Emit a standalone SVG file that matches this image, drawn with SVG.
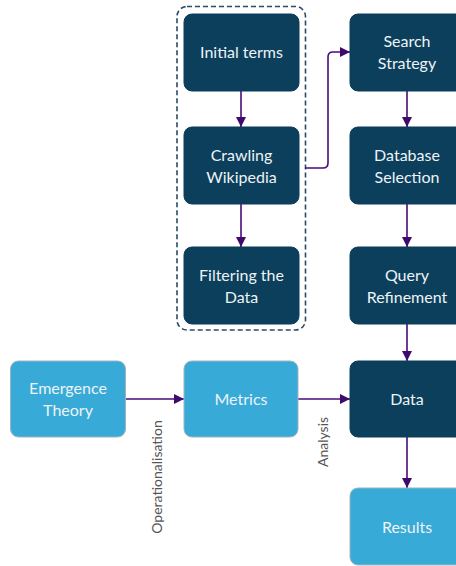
<svg xmlns="http://www.w3.org/2000/svg" width="456" height="566" viewBox="0 0 456 566">
  <style>
    .dark { fill: #0b3f5c; stroke: #0b3f5c; stroke-width: 1; }
    .light { fill: #38aad8; stroke: #9fb4c0; stroke-width: 1; }
    .lbl { font-family: Lato, "Open Sans", "Liberation Sans", sans-serif; font-size: 16px; fill: #eef3f6; text-anchor: middle; }
    .edge { fill: none; stroke: #4a0a7a; stroke-width: 1.6; }
    .elbl { font-family: Lato, "Open Sans", "Liberation Sans", sans-serif; font-size: 14px; fill: #555555; text-anchor: middle; }
  </style>
  <defs>
    <marker id="arrow" viewBox="0 0 10 10" refX="10" refY="5" markerWidth="10" markerHeight="10" markerUnits="userSpaceOnUse" orient="auto">
      <path d="M0,0 L10,5 L0,10 Z" fill="#3f0a6e"/>
    </marker>
  </defs>
  <rect width="456" height="566" fill="#ffffff"/>

  <!-- dashed group around the Wikipedia steps -->
  <rect id="group" x="177" y="6.5" width="128.5" height="323.5" rx="10" fill="none" stroke="#2a4b63" stroke-width="1.6" stroke-dasharray="5,3"/>

  <g id="connectors">
    <line class="edge" x1="241" y1="91" x2="241" y2="127" marker-end="url(#arrow)"/>
    <line class="edge" x1="241" y1="204" x2="241" y2="247" marker-end="url(#arrow)"/>
    <path class="edge" d="M305,168 H323 Q328,168 328,163 V57 Q328,52 333,52 H350" marker-end="url(#arrow)"/>
    <line class="edge" x1="407" y1="91" x2="407" y2="127" marker-end="url(#arrow)"/>
    <line class="edge" x1="407" y1="204" x2="407" y2="247" marker-end="url(#arrow)"/>
    <line class="edge" x1="407" y1="324" x2="407" y2="361" marker-end="url(#arrow)"/>
    <line class="edge" x1="407" y1="437" x2="407" y2="488" marker-end="url(#arrow)"/>
    <line class="edge" x1="125" y1="399" x2="184" y2="399" marker-end="url(#arrow)"/>
    <line class="edge" x1="298" y1="399" x2="350" y2="399" marker-end="url(#arrow)"/>
    <text class="elbl" transform="translate(162,477) rotate(-90)">Operationalisation</text>
    <text class="elbl" transform="translate(328,442) rotate(-90)">Analysis</text>
  </g>

  <g id="initial-terms">
    <rect class="dark" x="184" y="14" width="115" height="77" rx="8"/>
    <text class="lbl" x="241.5" y="58">Initial terms</text>
  </g>
  <g id="crawling-wikipedia">
    <rect class="dark" x="184" y="127" width="115" height="77" rx="8"/>
    <text class="lbl" x="241.5" y="161">Crawling</text>
    <text class="lbl" x="241.5" y="183">Wikipedia</text>
  </g>
  <g id="filtering-data">
    <rect class="dark" x="184" y="247" width="115" height="77" rx="8"/>
    <text class="lbl" x="241.5" y="281">Filtering the</text>
    <text class="lbl" x="241.5" y="303">Data</text>
  </g>

  <g id="search-strategy">
    <rect class="dark" x="350" y="14" width="115" height="77" rx="8"/>
    <text class="lbl" x="407" y="47">Search</text>
    <text class="lbl" x="407" y="69">Strategy</text>
  </g>
  <g id="database-selection">
    <rect class="dark" x="350" y="127" width="115" height="77" rx="8"/>
    <text class="lbl" x="407" y="161">Database</text>
    <text class="lbl" x="407" y="183">Selection</text>
  </g>
  <g id="query-refinement">
    <rect class="dark" x="350" y="247" width="115" height="77" rx="8"/>
    <text class="lbl" x="407" y="281">Query</text>
    <text class="lbl" x="407" y="303">Refinement</text>
  </g>
  <g id="data">
    <rect class="dark" x="350" y="361" width="115" height="76" rx="8"/>
    <text class="lbl" x="407" y="405">Data</text>
  </g>
  <g id="results">
    <rect class="light" x="350" y="488" width="115" height="77" rx="8"/>
    <text class="lbl" x="407" y="533">Results</text>
  </g>

  <g id="emergence-theory">
    <rect class="light" x="10.5" y="361" width="115" height="76" rx="8"/>
    <text class="lbl" x="68" y="394">Emergence</text>
    <text class="lbl" x="68" y="416">Theory</text>
  </g>
  <g id="metrics">
    <rect class="light" x="184" y="361" width="114" height="76" rx="8"/>
    <text class="lbl" x="241" y="405">Metrics</text>
  </g>
</svg>
